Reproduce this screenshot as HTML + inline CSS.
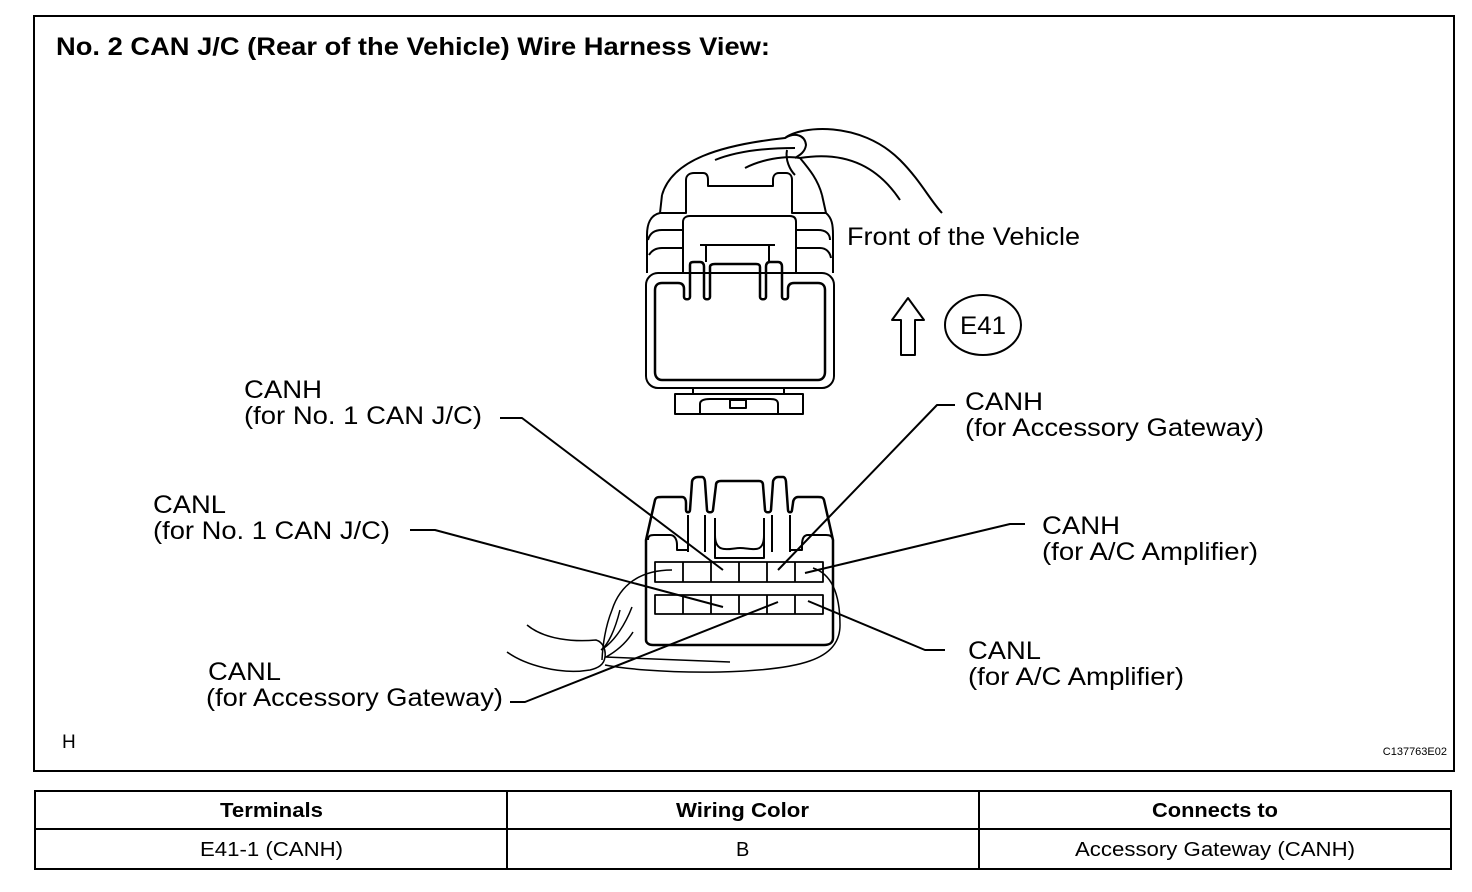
<!DOCTYPE html>
<html><head><style>
body{margin:0;background:#fff;}
svg{display:block;font-family:"Liberation Sans",Arial,sans-serif;}
</style></head><body>
<svg width="1472" height="892" viewBox="0 0 1472 892" xmlns="http://www.w3.org/2000/svg">
<rect x="0" y="0" width="1472" height="892" fill="#fff"/>
<rect x="34" y="16" width="1420" height="755" fill="none" stroke="#000" stroke-width="2"/>
<text x="56" y="55" font-size="25" font-weight="bold" textLength="714" lengthAdjust="spacingAndGlyphs">No. 2 CAN J/C (Rear of the Vehicle) Wire Harness View:</text>
<text x="62" y="748" font-size="19">H</text>
<text x="1447" y="755" font-size="11" text-anchor="end">C137763E02</text>

<g fill="none" stroke="#000" stroke-width="2" stroke-linejoin="round">
<path d="M662,195 C672,160 720,145 785,138 C795,132 805,135 806,145 C805,152 800,155 795,158"/>
<path d="M785,138 C800,126 860,120 900,160 C920,180 930,200 942,213"/>
<path d="M800,158 C850,150 880,170 900,200"/>
<path d="M715,160 C740,150 770,148 795,148"/>
<path d="M745,168 C760,160 785,155 800,158"/>
<path d="M787,150 C785,160 790,170 795,175"/>
<path d="M800,158 C810,170 818,180 822,195"/>
<path d="M662,195 L660,213 C650,215 647,225 647,235 L647,273"/>
<path d="M822,195 L826,213 C832,218 833,225 833,235 L833,273"/>
<path d="M660,213 L686,213 L686,180 C686,175 690,173 694,173 L703,173 C707,173 708,176 708,180 L708,186 L773,186 L773,180 C773,176 775,173 779,173 L786,173 C790,173 792,176 792,180 L792,213 L826,213"/>
<path d="M648,240 C650,232 656,230 662,230 L683,230 L683,222 C683,218 686,216 690,216 L790,216 C794,216 796,218 796,222 L796,230 L818,230 C826,230 830,234 830,240"/>
<path d="M649,255 C652,250 656,248 662,248 L683,248"/>
<path d="M796,248 L820,248 C826,248 830,252 831,258"/>
<path d="M683,230 L683,273 M796,230 L796,273"/>
<rect x="646" y="273" width="188" height="115" rx="12"/>
<path d="M655,290 C655,285 658,283 662,283 L678,283 C682,283 684,285 684,289 L684,297 C684,300 690,300 690,297 L690,265 C690,262 692,262 694,262 L700,262 C703,262 704,264 704,267 L704,297 C704,300 710,300 710,297 L710,267 C710,265 712,264 715,264 L756,264 C759,264 760,265 760,267 L760,297 C760,300 766,300 766,297 L766,267 C766,264 767,262 770,262 L778,262 C781,262 782,264 782,267 L782,297 C782,300 788,300 788,297 L788,289 C788,285 790,283 794,283 L818,283 C822,283 825,285 825,290 L825,372 C825,377 822,380 818,380 L662,380 C658,380 655,377 655,372 Z" stroke-width="2.5"/>
<path d="M700,245 L775,245 M706,245 L706,262 M769,245 L769,262"/>
<path d="M693,388 L693,394 M784,388 L784,394"/>
<rect x="675" y="394" width="128" height="20"/>
<path d="M700,414 L700,404 C700,400 705,399 710,399 L770,399 C775,399 778,400 778,404 L778,414"/>
<rect x="730" y="400" width="16" height="8"/>

<path d="M646,640 L646,540 L655,500 C656,497 658,497 662,497 L682,497 C685,497 686,500 686,503 L686,510 C686,513 690,513 690,510 L692,482 C692,479 695,477 698,477 L702,477 C704,477 705,480 705,482 L707,510 C707,513 713,513 713,510 L716,485 C716,482 718,481 721,481 L759,481 C761,481 763,482 763,485 L765,510 C765,513 771,513 771,510 L773,482 C773,480 775,477 778,477 L783,477 C785,477 786,480 786,482 L788,510 C788,513 792,513 792,510 L793,503 C793,500 795,497 798,497 L818,497 C821,497 823,497 824,500 L833,540 L833,638 C833,643 829,645 824,645 L653,645 C649,645 646,643 646,640 Z" stroke-width="2.5"/>
<path d="M648,540 C648,536 650,535 654,535 L670,535 C675,535 677,540 677,545 L677,550 L688,550"/>
<path d="M833,540 C832,536 830,535 826,535 L808,535 C803,535 802,540 802,545 L802,550 L790,550"/>
<path d="M688,515 L688,552 M705,515 L705,552 M772,515 L772,552 M790,515 L790,552"/>
<path d="M715,518 L715,558 L764,558 L764,518"/>
<path d="M715,535 C715,555 730,548 740,548 C752,548 764,555 764,535"/>
<g stroke-width="1.8">
<rect x="655" y="562" width="168" height="20"/>
<path d="M683,562 V582 M711,562 V582 M739,562 V582 M767,562 V582 M795,562 V582"/>
<rect x="655" y="595" width="168" height="19"/>
<path d="M683,595 V614 M711,595 V614 M739,595 V614 M767,595 V614 M795,595 V614"/>
</g>
<g stroke-width="1.5">
<path d="M672,570 C640,570 620,585 612,610 C606,625 603,640 602,660"/>
<path d="M813,568 C835,575 840,600 840,625 C840,660 800,670 720,672 C660,673 620,668 605,665"/>
<path d="M527,625 C545,640 575,642 596,640 C603,642 606,650 605,657 C604,665 598,668 590,670 C560,675 525,665 507,652"/>
<path d="M605,657 L730,662"/>
<path d="M632,607 C625,625 615,640 604,648 M633,632 C625,645 615,652 606,657"/>
<path d="M620,610 C615,630 608,645 601,650"/>
</g>
<path d="M500,418 L522,418 L723,570"/>
<path d="M955,405 L937,405 L778,570"/>
<path d="M1025,524 L1010,524 L805,573"/>
<path d="M410,530 L435,530 L723,607"/>
<path d="M945,650 L925,650 L808,601"/>
<path d="M510,702 L525,702 L778,602"/>
<path d="M908,298 L892,320 L901,320 L901,355 L915,355 L915,320 L924,320 Z"/>
<ellipse cx="983" cy="325" rx="38" ry="30"/>
</g>

<g font-size="25">
<text x="847" y="245" textLength="233" lengthAdjust="spacingAndGlyphs">Front of the Vehicle</text>
<text x="960" y="334" textLength="46" lengthAdjust="spacingAndGlyphs">E41</text>
<text x="244" y="398" textLength="78" lengthAdjust="spacingAndGlyphs">CANH</text>
<text x="244" y="424" textLength="238" lengthAdjust="spacingAndGlyphs">(for No. 1 CAN J/C)</text>
<text x="965" y="410" textLength="78" lengthAdjust="spacingAndGlyphs">CANH</text>
<text x="965" y="436" textLength="299" lengthAdjust="spacingAndGlyphs">(for Accessory Gateway)</text>
<text x="153" y="513" textLength="73" lengthAdjust="spacingAndGlyphs">CANL</text>
<text x="153" y="539" textLength="237" lengthAdjust="spacingAndGlyphs">(for No. 1 CAN J/C)</text>
<text x="1042" y="534" textLength="78" lengthAdjust="spacingAndGlyphs">CANH</text>
<text x="1042" y="560" textLength="216" lengthAdjust="spacingAndGlyphs">(for A/C Amplifier)</text>
<text x="968" y="659" textLength="73" lengthAdjust="spacingAndGlyphs">CANL</text>
<text x="968" y="685" textLength="216" lengthAdjust="spacingAndGlyphs">(for A/C Amplifier)</text>
<text x="208" y="680" textLength="73" lengthAdjust="spacingAndGlyphs">CANL</text>
<text x="206" y="706" textLength="297" lengthAdjust="spacingAndGlyphs">(for Accessory Gateway)</text>
</g>

<g fill="none" stroke="#000" stroke-width="2">
<rect x="35" y="791" width="1416" height="78"/>
<path d="M35,829 H1451 M507,791 V869 M979,791 V869"/>
</g>
<g font-size="20">
<text x="220" y="817" font-weight="bold" textLength="103" lengthAdjust="spacingAndGlyphs">Terminals</text>
<text x="676" y="817" font-weight="bold" textLength="133" lengthAdjust="spacingAndGlyphs">Wiring Color</text>
<text x="1152" y="817" font-weight="bold" textLength="126" lengthAdjust="spacingAndGlyphs">Connects to</text>
<text x="200" y="856" textLength="143" lengthAdjust="spacingAndGlyphs">E41-1 (CANH)</text>
<text x="736" y="856">B</text>
<text x="1075" y="856" textLength="280" lengthAdjust="spacingAndGlyphs">Accessory Gateway (CANH)</text>
</g>
</svg>
</body></html>
